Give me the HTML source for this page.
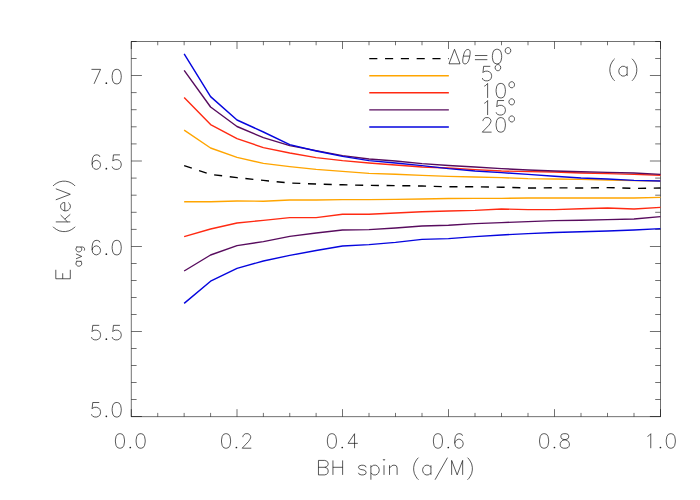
<!DOCTYPE html>
<html><head><meta charset="utf-8"><title>Eavg vs BH spin</title>
<style>html,body{margin:0;padding:0;background:#fff;font-family:"Liberation Sans",sans-serif}svg{display:block}</style>
</head><body>
<svg width="700" height="500" viewBox="0 0 700 500">
<rect width="700" height="500" fill="#fff"/>
<path d="M131.02 41.50H660.78M131.02 416.65H660.78M131.30 41.50V416.65M660.50 41.50V416.65" fill="none" stroke="#000" stroke-width="0.56"/>
<path d="M131.30 416.65v-7.50M131.30 41.50v7.50M157.73 416.65v-3.75M157.73 41.50v3.75M184.15 416.65v-3.75M184.15 41.50v3.75M210.58 416.65v-3.75M210.58 41.50v3.75M237.00 416.65v-7.50M237.00 41.50v7.50M263.38 416.65v-3.75M263.38 41.50v3.75M289.75 416.65v-3.75M289.75 41.50v3.75M316.12 416.65v-3.75M316.12 41.50v3.75M342.50 416.65v-7.50M342.50 41.50v7.50M369.00 416.65v-3.75M369.00 41.50v3.75M395.50 416.65v-3.75M395.50 41.50v3.75M422.00 416.65v-3.75M422.00 41.50v3.75M448.50 416.65v-7.50M448.50 41.50v7.50M475.00 416.65v-3.75M475.00 41.50v3.75M501.50 416.65v-3.75M501.50 41.50v3.75M528.00 416.65v-3.75M528.00 41.50v3.75M554.50 416.65v-7.50M554.50 41.50v7.50M581.00 416.65v-3.75M581.00 41.50v3.75M607.50 416.65v-3.75M607.50 41.50v3.75M634.00 416.65v-3.75M634.00 41.50v3.75M660.50 416.65v-7.50M660.50 41.50v7.50" fill="none" stroke="#000" stroke-width="0.56"/>
<path d="M131.30 416.50h10.60M660.50 416.50h-10.60M131.30 399.50h5.30M660.50 399.50h-5.30M131.30 382.50h5.30M660.50 382.50h-5.30M131.30 365.50h5.30M660.50 365.50h-5.30M131.30 348.50h5.30M660.50 348.50h-5.30M131.30 331.50h10.60M660.50 331.50h-10.60M131.30 314.50h5.30M660.50 314.50h-5.30M131.30 297.50h5.30M660.50 297.50h-5.30M131.30 280.50h5.30M660.50 280.50h-5.30M131.30 263.50h5.30M660.50 263.50h-5.30M131.30 246.50h10.60M660.50 246.50h-10.60M131.30 229.40h5.30M660.50 229.40h-5.30M131.30 212.30h5.30M660.50 212.30h-5.30M131.30 195.20h5.30M660.50 195.20h-5.30M131.30 178.10h5.30M660.50 178.10h-5.30M131.30 161.00h10.60M660.50 161.00h-10.60M131.30 143.90h5.30M660.50 143.90h-5.30M131.30 126.80h5.30M660.50 126.80h-5.30M131.30 109.70h5.30M660.50 109.70h-5.30M131.30 92.60h5.30M660.50 92.60h-5.30M131.30 75.50h10.60M660.50 75.50h-10.60M131.30 58.50h5.30M660.50 58.50h-5.30M131.30 41.50h5.30M660.50 41.50h-5.30" fill="none" stroke="#000" stroke-width="0.56"/>
<path d="M184.15 165.60L210.58 174.40L237.00 177.60L263.38 180.40L289.75 183.00L316.12 184.00L342.50 184.80L369.00 185.40L395.50 185.60L422.00 186.00L448.50 186.80L475.00 186.80L501.50 187.20L528.00 188.00L554.50 187.80L581.00 188.00L607.50 187.60L634.00 188.40L660.50 188.00" fill="none" stroke="#000" stroke-width="1.42" stroke-dasharray="8.05 7.67"/>
<path d="M184.15 130.20L210.58 148.00L237.00 157.40L263.38 163.40L289.75 166.60L316.12 169.40L342.50 171.40L369.00 173.40L395.50 174.20L422.00 175.40L448.50 176.40L475.00 177.00L501.50 177.60L528.00 178.60L554.50 179.00L581.00 179.40L607.50 180.00L634.00 180.60L660.50 181.00" fill="none" stroke="#ffa500" stroke-width="1.42" stroke-linejoin="round"/>
<path d="M184.15 201.80L210.58 201.80L237.00 201.00L263.38 201.20L289.75 200.00L316.12 200.00L342.50 199.60L369.00 199.60L395.50 199.40L422.00 199.00L448.50 198.50L475.00 198.40L501.50 198.40L528.00 198.00L554.50 198.00L581.00 198.00L607.50 198.00L634.00 198.00L660.50 197.40" fill="none" stroke="#ffa500" stroke-width="1.42" stroke-linejoin="round"/>
<path d="M184.15 97.40L210.58 124.60L237.00 138.60L263.38 147.60L289.75 153.00L316.12 157.60L342.50 160.60L369.00 163.00L395.50 165.00L422.00 167.00L448.50 168.00L475.00 169.60L501.50 171.00L528.00 171.60L554.50 172.00L581.00 173.00L607.50 173.60L634.00 174.40L660.50 175.20" fill="none" stroke="#ff2a12" stroke-width="1.42" stroke-linejoin="round"/>
<path d="M184.15 236.60L210.58 229.00L237.00 223.00L263.38 220.40L289.75 217.60L316.12 217.60L342.50 214.20L369.00 214.20L395.50 213.00L422.00 211.80L448.50 211.00L475.00 210.40L501.50 209.00L528.00 209.60L554.50 209.60L581.00 208.80L607.50 208.00L634.00 209.00L660.50 207.40" fill="none" stroke="#ff2a12" stroke-width="1.42" stroke-linejoin="round"/>
<path d="M184.15 70.40L210.58 107.00L237.00 126.50L263.38 137.60L289.75 145.60L316.12 150.60L342.50 155.60L369.00 159.00L395.50 161.00L422.00 163.60L448.50 165.50L475.00 167.00L501.50 168.60L528.00 170.00L554.50 171.00L581.00 171.80L607.50 172.40L634.00 173.00L660.50 174.40" fill="none" stroke="#580c5e" stroke-width="1.42" stroke-linejoin="round"/>
<path d="M184.15 271.00L210.58 255.00L237.00 245.60L263.38 241.60L289.75 236.40L316.12 233.00L342.50 230.00L369.00 229.60L395.50 228.00L422.00 226.00L448.50 225.30L475.00 223.60L501.50 222.60L528.00 221.60L554.50 220.60L581.00 220.20L607.50 219.60L634.00 219.00L660.50 216.60" fill="none" stroke="#580c5e" stroke-width="1.42" stroke-linejoin="round"/>
<path d="M184.15 53.80L210.58 96.60L237.00 120.00L263.38 132.00L289.75 144.60L316.12 151.00L342.50 156.40L369.00 160.60L395.50 163.00L422.00 165.60L448.50 168.60L475.00 171.00L501.50 172.60L528.00 174.40L554.50 176.20L581.00 178.00L607.50 179.00L634.00 180.40L660.50 181.00" fill="none" stroke="#0505de" stroke-width="1.42" stroke-linejoin="round"/>
<path d="M184.15 303.40L210.58 281.20L237.00 268.40L263.38 261.00L289.75 255.40L316.12 250.50L342.50 246.00L369.00 244.60L395.50 242.40L422.00 239.40L448.50 238.60L475.00 236.60L501.50 235.00L528.00 233.60L554.50 232.50L581.00 231.80L607.50 231.00L634.00 230.00L660.50 228.60" fill="none" stroke="#0505de" stroke-width="1.42" stroke-linejoin="round"/>
<path d="M369.25 58.65H448.85" fill="none" stroke="#000" stroke-width="1.42" stroke-dasharray="8.1 7.7"/>
<path d="M369.25 75.80H448.85" fill="none" stroke="#ffa500" stroke-width="1.42"/>
<path d="M369.25 92.80H448.85" fill="none" stroke="#ff2a12" stroke-width="1.42"/>
<path d="M369.25 109.90H448.85" fill="none" stroke="#580c5e" stroke-width="1.42"/>
<path d="M369.25 126.95H448.85" fill="none" stroke="#0505de" stroke-width="1.42"/>
<path d="M454.51 49.31L448.99 63.80M454.51 49.31L460.03 63.80M448.99 63.80L460.03 63.80M469.66 56.69L470.01 54.65L470.15 53.26L470.15 52.13L470.01 51.19L469.73 50.47L469.33 49.94L468.77 49.62L467.88 49.52L466.95 49.62L466.27 49.94L465.65 50.47L465.09 51.19L464.58 52.13L464.11 53.26L463.69 54.65L463.24 56.69L462.88 58.74L462.74 60.12L462.75 61.26L462.89 62.19L463.16 62.92L463.56 63.45L464.12 63.77L465.01 63.87L465.94 63.77L466.63 63.45L467.24 62.92L467.81 62.19L468.32 61.26L468.78 60.12L469.20 58.74L469.66 56.69M463.42 56.14L469.70 56.14M474.93 55.52L487.35 55.52M474.93 59.66L487.35 59.66M496.35 49.31L494.36 50.00L493.04 52.07L492.38 55.52L492.38 57.59L493.04 61.04L494.36 63.11L496.35 63.80L497.68 63.80L499.66 63.11L500.99 61.04L501.65 57.59L501.65 55.52L500.99 52.07L499.66 50.00L497.68 49.31L496.35 49.31M507.34 47.61L506.48 48.04L505.63 48.89L505.20 50.18L505.20 51.03L505.63 52.32L506.48 53.17L507.34 53.60L508.62 53.60L509.48 53.17L510.33 52.32L510.76 51.03L510.76 50.18L510.33 48.89L509.48 48.04L508.62 47.61L507.34 47.61M490.26 66.34L483.64 66.34L482.98 72.55L483.64 71.86L485.63 71.17L487.61 71.17L489.60 71.86L490.92 73.24L491.59 75.31L491.59 76.69L490.92 78.76L489.60 80.14L487.61 80.83L485.63 80.83L483.64 80.14L482.98 79.45L482.31 78.07M497.27 64.64L496.42 65.07L495.56 65.92L495.13 67.21L495.13 68.06L495.56 69.35L496.42 70.20L497.27 70.63L498.56 70.63L499.41 70.20L500.27 69.35L500.69 68.06L500.69 67.21L500.27 65.92L499.41 65.07L498.56 64.64L497.27 64.64M484.30 86.20L485.63 85.51L487.61 83.44L487.61 97.93M500.09 83.44L498.10 84.13L496.78 86.20L496.11 89.65L496.11 91.72L496.78 95.17L498.10 97.24L500.09 97.93L501.41 97.93L503.40 97.24L504.72 95.17L505.39 91.72L505.39 89.65L504.72 86.20L503.40 84.13L501.41 83.44L500.09 83.44M511.07 81.74L510.22 82.17L509.36 83.02L508.93 84.31L508.93 85.16L509.36 86.45L510.22 87.30L511.07 87.73L512.36 87.73L513.21 87.30L514.07 86.45L514.49 85.16L514.49 84.31L514.07 83.02L513.21 82.17L512.36 81.74L511.07 81.74M484.30 103.30L485.63 102.61L487.61 100.54L487.61 115.03M504.06 100.54L497.44 100.54L496.78 106.75L497.44 106.06L499.43 105.37L501.41 105.37L503.40 106.06L504.72 107.44L505.39 109.51L505.39 110.89L504.72 112.96L503.40 114.34L501.41 115.03L499.43 115.03L497.44 114.34L496.78 113.65L496.11 112.27M511.07 98.84L510.22 99.27L509.36 100.12L508.93 101.41L508.93 102.26L509.36 103.55L510.22 104.40L511.07 104.83L512.36 104.83L513.21 104.40L514.07 103.55L514.49 102.26L514.49 101.41L514.07 100.12L513.21 99.27L512.36 98.84L511.07 98.84M482.98 121.09L482.98 120.40L483.64 119.02L484.30 118.33L485.63 117.64L488.27 117.64L489.60 118.33L490.26 119.02L490.92 120.40L490.92 121.78L490.26 123.16L488.94 125.23L482.31 132.13L491.59 132.13M500.09 117.64L498.10 118.33L496.78 120.40L496.11 123.85L496.11 125.92L496.78 129.37L498.10 131.44L500.09 132.13L501.41 132.13L503.40 131.44L504.72 129.37L505.39 125.92L505.39 123.85L504.72 120.40L503.40 118.33L501.41 117.64L500.09 117.64M511.07 115.94L510.22 116.37L509.36 117.22L508.93 118.51L508.93 119.36L509.36 120.65L510.22 121.50L511.07 121.93L512.36 121.93L513.21 121.50L514.07 120.65L514.49 119.36L514.49 118.51L514.07 117.22L513.21 116.37L512.36 115.94L511.07 115.94M614.69 58.75L613.31 60.13L611.93 62.20L610.55 64.96L609.86 68.41L609.86 71.17L610.55 74.62L611.93 77.38L613.31 79.45L614.69 80.83M627.11 66.34L627.11 76.00M627.11 68.41L625.73 67.03L624.35 66.34L622.28 66.34L620.90 67.03L619.52 68.41L618.83 70.48L618.83 71.86L619.52 73.93L620.90 75.31L622.28 76.00L624.35 76.00L625.73 75.31L627.11 73.93M631.94 58.75L633.32 60.13L634.70 62.20L636.08 64.96L636.77 68.41L636.77 71.17L636.08 74.62L634.70 77.38L633.32 79.45L631.94 80.83M99.24 402.51L92.76 402.51L92.11 408.72L92.76 408.03L94.70 407.34L96.65 407.34L98.59 408.03L99.89 409.41L100.54 411.48L100.54 412.86L99.89 414.93L98.59 416.31L96.65 417.00L94.70 417.00L92.76 416.31L92.11 415.62L91.46 414.24M116.05 402.51L114.11 403.20L112.81 405.27L112.16 408.72L112.16 410.79L112.81 414.24L114.11 416.31L116.05 417.00L117.35 417.00L119.29 416.31L120.59 414.24L121.24 410.79L121.24 408.72L120.59 405.27L119.29 403.20L117.35 402.51L116.05 402.51M99.24 325.36L92.76 325.36L92.11 331.57L92.76 330.88L94.70 330.19L96.65 330.19L98.59 330.88L99.89 332.26L100.54 334.33L100.54 335.71L99.89 337.78L98.59 339.16L96.65 339.85L94.70 339.85L92.76 339.16L92.11 338.47L91.46 337.09M119.94 325.36L113.46 325.36L112.81 331.57L113.46 330.88L115.40 330.19L117.35 330.19L119.29 330.88L120.59 332.26L121.24 334.33L121.24 335.71L120.59 337.78L119.29 339.16L117.35 339.85L115.40 339.85L113.46 339.16L112.81 338.47L112.16 337.09M99.89 242.43L99.24 241.05L97.30 240.36L96.00 240.36L94.05 241.05L92.76 243.12L92.11 246.57L92.11 250.02L92.76 252.78L94.05 254.16L96.00 254.85L96.65 254.85L98.59 254.16L99.89 252.78L100.54 250.71L100.54 250.02L99.89 247.95L98.59 246.57L96.65 245.88L96.00 245.88L94.05 246.57L92.76 247.95L92.11 250.02M116.05 240.36L114.11 241.05L112.81 243.12L112.16 246.57L112.16 248.64L112.81 252.09L114.11 254.16L116.05 254.85L117.35 254.85L119.29 254.16L120.59 252.09L121.24 248.64L121.24 246.57L120.59 243.12L119.29 241.05L117.35 240.36L116.05 240.36M99.89 156.93L99.24 155.55L97.30 154.86L96.00 154.86L94.05 155.55L92.76 157.62L92.11 161.07L92.11 164.52L92.76 167.28L94.05 168.66L96.00 169.35L96.65 169.35L98.59 168.66L99.89 167.28L100.54 165.21L100.54 164.52L99.89 162.45L98.59 161.07L96.65 160.38L96.00 160.38L94.05 161.07L92.76 162.45L92.11 164.52M119.94 154.86L113.46 154.86L112.81 161.07L113.46 160.38L115.40 159.69L117.35 159.69L119.29 160.38L120.59 161.76L121.24 163.83L121.24 165.21L120.59 167.28L119.29 168.66L117.35 169.35L115.40 169.35L113.46 168.66L112.81 167.97L112.16 166.59M100.54 69.36L94.05 83.85M91.46 69.36L100.54 69.36M116.05 69.36L114.11 70.05L112.81 72.12L112.16 75.57L112.16 77.64L112.81 81.09L114.11 83.16L116.05 83.85L117.35 83.85L119.29 83.16L120.59 81.09L121.24 77.64L121.24 75.57L120.59 72.12L119.29 70.05L117.35 69.36L116.05 69.36M119.30 433.71L117.36 434.40L116.06 436.47L115.41 439.92L115.41 441.99L116.06 445.44L117.36 447.51L119.30 448.20L120.60 448.20L122.54 447.51L123.84 445.44L124.49 441.99L124.49 439.92L123.84 436.47L122.54 434.40L120.60 433.71L119.30 433.71M140.00 433.71L138.06 434.40L136.76 436.47L136.11 439.92L136.11 441.99L136.76 445.44L138.06 447.51L140.00 448.20L141.30 448.20L143.24 447.51L144.54 445.44L145.19 441.99L145.19 439.92L144.54 436.47L143.24 434.40L141.30 433.71L140.00 433.71M225.40 433.71L223.46 434.40L222.16 436.47L221.51 439.92L221.51 441.99L222.16 445.44L223.46 447.51L225.40 448.20L226.70 448.20L228.64 447.51L229.94 445.44L230.59 441.99L230.59 439.92L229.94 436.47L228.64 434.40L226.70 433.71L225.40 433.71M242.86 437.16L242.86 436.47L243.51 435.09L244.16 434.40L245.45 433.71L248.05 433.71L249.34 434.40L249.99 435.09L250.64 436.47L250.64 437.85L249.99 439.23L248.70 441.30L242.21 448.20L251.29 448.20M331.25 433.71L329.31 434.40L328.01 436.47L327.36 439.92L327.36 441.99L328.01 445.44L329.31 447.51L331.25 448.20L332.55 448.20L334.49 447.51L335.79 445.44L336.44 441.99L336.44 439.92L335.79 436.47L334.49 434.40L332.55 433.71L331.25 433.71M354.55 433.71L348.06 443.37L357.79 443.37M354.55 433.71L354.55 448.20M437.30 433.71L435.36 434.40L434.06 436.47L433.41 439.92L433.41 441.99L434.06 445.44L435.36 447.51L437.30 448.20L438.60 448.20L440.54 447.51L441.84 445.44L442.49 441.99L442.49 439.92L441.84 436.47L440.54 434.40L438.60 433.71L437.30 433.71M462.54 435.78L461.89 434.40L459.95 433.71L458.65 433.71L456.70 434.40L455.41 436.47L454.76 439.92L454.76 443.37L455.41 446.13L456.70 447.51L458.65 448.20L459.30 448.20L461.24 447.51L462.54 446.13L463.19 444.06L463.19 443.37L462.54 441.30L461.24 439.92L459.30 439.23L458.65 439.23L456.70 439.92L455.41 441.30L454.76 443.37M543.45 433.71L541.51 434.40L540.21 436.47L539.56 439.92L539.56 441.99L540.21 445.44L541.51 447.51L543.45 448.20L544.75 448.20L546.69 447.51L547.99 445.44L548.64 441.99L548.64 439.92L547.99 436.47L546.69 434.40L544.75 433.71L543.45 433.71M563.50 433.71L561.56 434.40L560.91 435.78L560.91 437.16L561.56 438.54L562.85 439.23L565.45 439.92L567.39 440.61L568.69 441.99L569.34 443.37L569.34 445.44L568.69 446.82L568.04 447.51L566.10 448.20L563.50 448.20L561.56 447.51L560.91 446.82L560.26 445.44L560.26 443.37L560.91 441.99L562.21 440.61L564.15 439.92L566.75 439.23L568.04 438.54L568.69 437.16L568.69 435.78L568.04 434.40L566.10 433.71L563.50 433.71M647.51 436.47L648.80 435.78L650.75 433.71L650.75 448.20M670.15 433.71L668.21 434.40L666.91 436.47L666.26 439.92L666.26 441.99L666.91 445.44L668.21 447.51L670.15 448.20L671.45 448.20L673.39 447.51L674.69 445.44L675.34 441.99L675.34 439.92L674.69 436.47L673.39 434.40L671.45 433.71L670.15 433.71M318.46 460.41L318.46 474.90M318.46 460.41L324.67 460.41L326.75 461.10L327.44 461.79L328.12 463.17L328.12 464.55L327.44 465.93L326.75 466.62L324.67 467.31M318.46 467.31L324.67 467.31L326.75 468.00L327.44 468.69L328.12 470.07L328.12 472.14L327.44 473.52L326.75 474.21L324.67 474.90L318.46 474.90M332.95 460.41L332.95 474.90M342.62 460.41L342.62 474.90M332.95 467.31L342.62 467.31M366.07 467.31L365.38 465.93L363.31 465.24L361.25 465.24L359.17 465.93L358.48 467.31L359.17 468.69L360.55 469.38L364.00 470.07L365.38 470.76L366.07 472.14L366.07 472.83L365.38 474.21L363.31 474.90L361.25 474.90L359.17 474.21L358.48 472.83M370.90 465.24L370.90 479.73M370.90 467.31L372.28 465.93L373.66 465.24L375.73 465.24L377.11 465.93L378.50 467.31L379.18 469.38L379.18 470.76L378.50 472.83L377.11 474.21L375.73 474.90L373.66 474.90L372.28 474.21L370.90 472.83M383.32 459.72L384.01 460.41L384.70 459.72L384.01 459.03L383.32 459.72M384.01 465.24L384.01 474.90M389.53 465.24L389.53 474.90M389.53 468.00L391.60 465.93L392.98 465.24L395.05 465.24L396.43 465.93L397.12 468.00L397.12 474.90M418.51 457.65L417.13 459.03L415.75 461.10L414.37 463.86L413.68 467.31L413.68 470.07L414.37 473.52L415.75 476.28L417.13 478.35L418.51 479.73M430.93 465.24L430.93 474.90M430.93 467.31L429.55 465.93L428.17 465.24L426.10 465.24L424.72 465.93L423.34 467.31L422.65 469.38L422.65 470.76L423.34 472.83L424.72 474.21L426.10 474.90L428.17 474.90L429.55 474.21L430.93 472.83M447.49 457.65L435.07 479.73M451.63 460.41L451.63 474.90M451.63 460.41L457.15 474.90M462.67 460.41L457.15 474.90M462.67 460.41L462.67 474.90M467.50 457.65L468.88 459.03L470.26 461.10L471.64 463.86L472.33 467.31L472.33 470.07L471.64 473.52L470.26 476.28L468.88 478.35L467.50 479.73M55.81 278.76L70.30 278.76M55.81 278.76L55.81 269.79M62.71 278.76L62.71 273.24M70.30 278.76L70.30 269.79M75.98 261.29L81.70 261.29M77.21 261.29L76.39 262.10L75.98 262.92L75.98 264.15L76.39 264.96L77.21 265.78L78.43 266.19L79.25 266.19L80.47 265.78L81.29 264.96L81.70 264.15L81.70 262.92L81.29 262.10L80.47 261.29M75.98 258.84L81.70 256.38M75.98 253.93L81.70 256.38M75.98 246.99L82.52 246.99L83.74 247.40L84.15 247.81L84.56 248.62L84.56 249.85L84.15 250.67M77.21 246.99L76.39 247.81L75.98 248.62L75.98 249.85L76.39 250.67L77.21 251.48L78.43 251.89L79.25 251.89L80.47 251.48L81.29 250.67L81.70 249.85L81.70 248.62L81.29 247.81L80.47 246.99M53.05 226.73L54.43 228.11L56.50 229.49L59.26 230.87L62.71 231.56L65.47 231.56L68.92 230.87L71.68 229.49L73.75 228.11L75.13 226.73M55.81 221.90L70.30 221.90M60.64 215.00L67.54 221.90M64.78 219.14L70.30 214.31M64.78 210.86L64.78 202.58L63.40 202.58L62.02 203.27L61.33 203.96L60.64 205.34L60.64 207.41L61.33 208.79L62.71 210.17L64.78 210.86L66.16 210.86L68.23 210.17L69.61 208.79L70.30 207.41L70.30 205.34L69.61 203.96L68.23 202.58M55.81 199.82L70.30 194.30M55.81 188.78L70.30 194.30M53.05 186.02L54.43 184.64L56.50 183.26L59.26 181.88L62.71 181.19L65.47 181.19L68.92 181.88L71.68 183.26L73.75 184.64L75.13 186.02" fill="none" stroke="#0a0a0a" stroke-width="0.68" stroke-linecap="butt" stroke-linejoin="round"/>
<circle cx="106.35" cy="416.31" r="0.85" fill="#222"/>
<circle cx="106.35" cy="339.16" r="0.85" fill="#222"/>
<circle cx="106.35" cy="254.16" r="0.85" fill="#222"/>
<circle cx="106.35" cy="168.66" r="0.85" fill="#222"/>
<circle cx="106.35" cy="83.16" r="0.85" fill="#222"/>
<circle cx="130.30" cy="447.51" r="0.85" fill="#222"/>
<circle cx="236.40" cy="447.51" r="0.85" fill="#222"/>
<circle cx="342.25" cy="447.51" r="0.85" fill="#222"/>
<circle cx="448.30" cy="447.51" r="0.85" fill="#222"/>
<circle cx="554.45" cy="447.51" r="0.85" fill="#222"/>
<circle cx="660.45" cy="447.51" r="0.85" fill="#222"/>
</svg>
</body></html>
